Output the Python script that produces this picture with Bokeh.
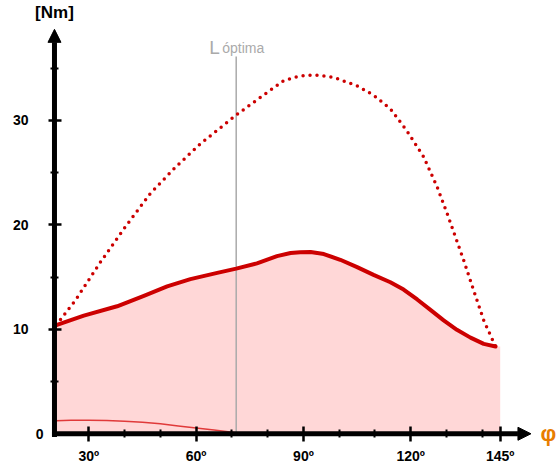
from bokeh.plotting import figure
from bokeh.models import Range1d, LinearAxis, FixedTicker, Arrow, NormalHead, Label
from bokeh.embed import file_html
from bokeh.resources import INLINE

# ---- data ----
angle_real = [20.9, 28.6, 37.9, 45.4, 51.9, 58.4, 65.9, 71.2, 77.0, 82.6, 86.4,
              89.1, 92.0, 95.7, 100.3, 105.0, 109.6, 114.3, 118.0, 121.8, 125.5,
              129.2, 132.9, 136.7, 140.4, 143.7]
torque_real = [10.4, 11.3, 12.2, 13.2, 14.1, 14.8, 15.4, 15.8, 16.3, 17.0, 17.3,
               17.38, 17.4, 17.2, 16.65, 15.95, 15.2, 14.5, 13.8, 12.85, 11.85,
               10.85, 9.95, 9.2, 8.6, 8.35]
angle_max = [20.9, 26.3, 33.2, 40.2, 47.2, 54.2, 61.2, 71.2, 78.0, 84.5, 88.5,
             92.9, 98.5, 105.0, 109.6, 114.3, 118.9, 123.6, 127.4, 130.2, 134.8,
             137.6, 140.4, 143.7]
torque_max = [10.4, 12.8, 16.4, 19.8, 23.0, 25.5, 27.75, 30.5, 32.2, 33.8, 34.2,
              34.35, 34.1, 33.3, 32.4, 31.1, 29.0, 26.5, 23.6, 21.05, 16.6,
              13.7, 10.85, 8.35]
angle_low = [20.9, 25, 30, 35, 40, 45, 50, 55, 60, 65, 70, 71.2]
torque_low = [1.25, 1.3, 1.3, 1.28, 1.2, 1.1, 0.95, 0.75, 0.55, 0.35, 0.15, 0.08]
l_optima = 71.2

x_major = [30, 60, 90, 120, 145]
x_minor = [40, 50, 70, 80, 100, 110, 130, 140]
x_labels = {30: "30º", 60: "60º", 90: "90º", 120: "120º", 145: "145º"}
y_major = [10, 20, 30]
y_minor = [5, 15, 25, 35]
y_zero = [0]

RED = "#cc0000"
x0 = 20.4       # where the vertical axis sits
x_fill_end = 145

p = figure(width=558, height=464, output_backend="svg", toolbar_location=None,
           x_range=Range1d(5.31, 161.3), y_range=Range1d(-2.94, 41.46),
           min_border_left=0, min_border_bottom=0, min_border_top=0,
           min_border_right=0, x_axis_type=None, y_axis_type=None)
p.outline_line_color = None
p.xgrid.visible = False
p.ygrid.visible = False

# fill under the real torque curve
p.varea(x=[x0] + angle_real + [x_fill_end], y1=0,
        y2=[torque_real[0]] + torque_real + [torque_real[-1]],
        fill_color="#ffd7d7", fill_alpha=1)

# L optima line
p.segment(x0=[l_optima], y0=[0], x1=[l_optima], y1=[36.1], line_color="#aaaaaa",
          line_width=1.5)

p.line(angle_low, torque_low, line_color="#e03a3a", line_width=1.5)
p.line(angle_max, torque_max, line_color=RED, line_width=3.5, line_dash="0 7",
       line_cap="round")
p.line(angle_real, torque_real, line_color=RED, line_width=4, line_join="round",
       line_cap="round")

# axes
xa = LinearAxis(ticker=FixedTicker(ticks=x_major, minor_ticks=x_minor))
xa.major_label_overrides = x_labels
ya = LinearAxis(ticker=FixedTicker(ticks=y_major, minor_ticks=y_minor))
yz = LinearAxis(ticker=FixedTicker(ticks=y_zero, minor_ticks=[]))
for ax in (xa, ya, yz):
    ax.axis_line_color = None
    ax.major_tick_line_color = "black"
    ax.major_tick_line_width = 2.5
    ax.minor_tick_line_color = "black"
    ax.minor_tick_line_width = 2
    ax.major_label_text_font = "Liberation Sans"
    ax.major_label_text_font_style = "bold"
    ax.major_label_text_font_size = "14px"
    ax.major_label_text_color = "black"
xa.major_tick_in = 7
xa.major_tick_out = 8
xa.minor_tick_in = 4
xa.minor_tick_out = 4
xa.major_label_standoff = 6
xa.fixed_location = 0
ya.major_tick_in = 7
ya.major_tick_out = 6
ya.minor_tick_in = 4
ya.minor_tick_out = 4
ya.major_label_standoff = 20
ya.fixed_location = x0
yz.major_tick_line_color = None
yz.major_tick_in = 0
yz.major_tick_out = 0
yz.major_label_standoff = 11
yz.fixed_location = x0
p.add_layout(xa, "below")
p.add_layout(ya, "left")
p.add_layout(yz, "left")

p.add_layout(Arrow(end=NormalHead(size=13, fill_color="black", line_color="black"),
                   x_start=x0 - 0.7, y_start=0, x_end=153.6, y_end=0,
                   line_width=5, line_color="black"))
p.add_layout(Arrow(end=NormalHead(size=13, fill_color="black", line_color="black"),
                   x_start=x0, y_start=-0.3, x_end=x0, y_end=38.7,
                   line_width=5, line_color="black"))

p.add_layout(Label(x=x0, y=39.4, text="[Nm]", text_font="Liberation Sans",
                   text_font_style="bold", text_font_size="17px",
                   text_align="center", text_baseline="bottom", text_color="black"))
p.add_layout(Label(x=158.5, y=0, text="φ", text_font="Liberation Sans",
                   text_font_style="bold", text_font_size="22px",
                   text_align="center", text_baseline="middle", text_color="#e87d00"))
p.add_layout(Label(x=l_optima - 7.5, y=36.95, text="L", text_font="Liberation Sans",
                   text_font_size="19px", text_align="left",
                   text_baseline="alphabetic", text_color="#aaaaaa"))
p.add_layout(Label(x=l_optima - 3.9, y=36.95, text="óptima", text_font="Liberation Sans",
                   text_font_size="14px", text_align="left",
                   text_baseline="alphabetic", text_color="#aaaaaa"))

open("out.html", "w").write(file_html(p, INLINE))
